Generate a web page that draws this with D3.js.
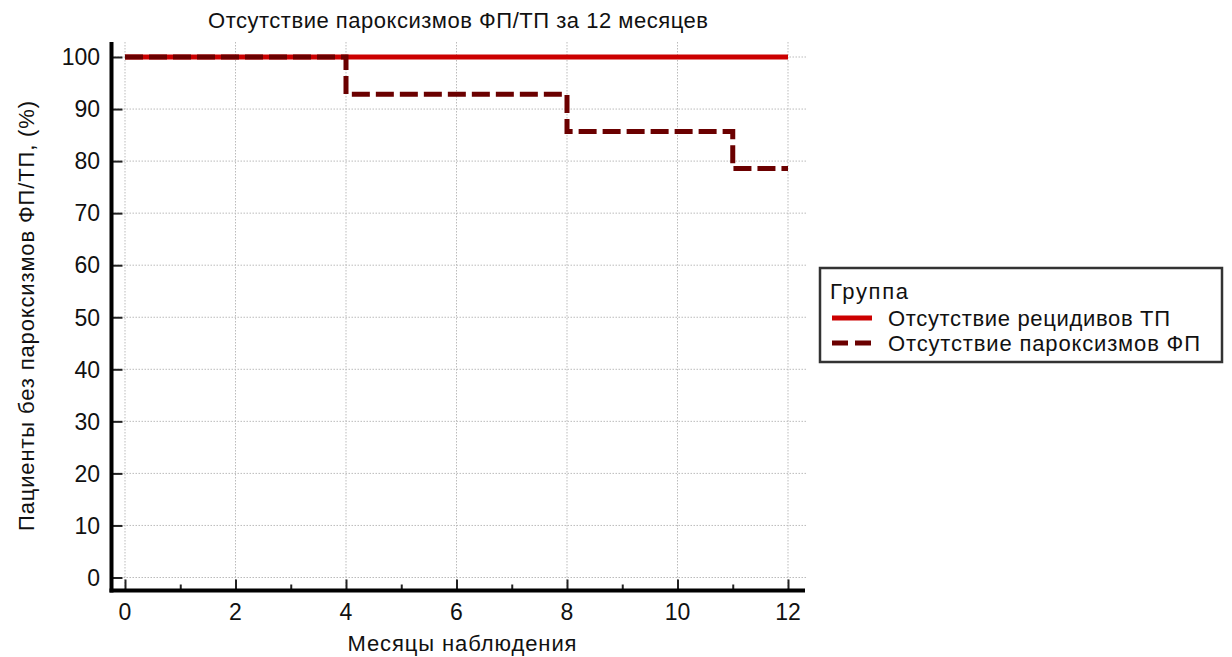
<!DOCTYPE html>
<html><head><meta charset="utf-8">
<script src="https://cdn.jsdelivr.net/npm/d3@7"></script>
<style>
body{margin:0;background:#fff;}
text{font-family:"Liberation Sans",Arial,sans-serif;fill:#111;}
</style></head>
<body><svg id="c" width="1232" height="657"></svg>
<script>
const months = [0, 4, 8, 11, 12];
const seriesTP = [100, 100, 100, 100, 100];
const seriesAF = [100, 92.86, 85.71, 78.57, 78.57];
const xTicks = [0, 2, 4, 6, 8, 10, 12];
const xMinorTicks = [1, 3, 5, 7, 9, 11];
const yTicks = [0, 10, 20, 30, 40, 50, 60, 70, 80, 90, 100];
const seriesNames = ["Отсутствие рецидивов ТП", "Отсутствие пароксизмов ФП"];
const colors = ["#cc0000", "#6b0000"];

const svg = d3.select("#c");
const x = d3.scaleLinear().domain([0, 12]).range([125, 788]);
const y = d3.scaleLinear().domain([0, 100]).range([577.5, 57]);
const pLeft = 111.5, pRight = 805, pTop = 42, pBottom = 590.5;

// grid
const g = svg.append("g");
g.selectAll(".gx").data(xTicks).enter().append("line")
  .attr("x1", d => x(d)).attr("x2", d => x(d)).attr("y1", pTop).attr("y2", pBottom)
  .attr("stroke", "#bbb").attr("stroke-width", 1).attr("stroke-dasharray", "1.5,1.5");
g.selectAll(".gy").data(yTicks).enter().append("line")
  .attr("x1", pLeft).attr("x2", pRight + 2).attr("y1", d => y(d)).attr("y2", d => y(d))
  .attr("stroke", "#bbb").attr("stroke-width", 1).attr("stroke-dasharray", "1.5,1.5");

// axes
const yAxis = d3.axisRight(y).tickValues(yTicks).tickSize(11).tickFormat("");
const ya = svg.append("g").attr("transform", `translate(${pLeft},0)`).call(yAxis);
ya.select(".domain").remove();
ya.selectAll(".tick line").attr("stroke", "#222").attr("stroke-width", 2);
svg.append("g").selectAll("text").data(yTicks).enter().append("text")
  .attr("x", 100).attr("y", d => y(d)).attr("dy", "0.36em").attr("text-anchor", "end")
  .attr("font-size", 23).text(d => d);

const xAxis = d3.axisTop(x).tickValues(xTicks).tickSize(11).tickFormat("");
const xa = svg.append("g").attr("transform", `translate(0,${pBottom})`).call(xAxis);
xa.select(".domain").remove();
xa.selectAll(".tick line").attr("stroke", "#222").attr("stroke-width", 2);
const xm = svg.append("g").attr("transform", `translate(0,${pBottom})`)
  .call(d3.axisTop(x).tickValues(xMinorTicks).tickSize(6).tickFormat(""));
xm.select(".domain").remove();
xm.selectAll(".tick line").attr("stroke", "#222").attr("stroke-width", 2);
svg.append("g").selectAll("text").data(xTicks).enter().append("text")
  .attr("x", d => x(d)).attr("y", 612).attr("dy", "0.36em").attr("text-anchor", "middle")
  .attr("font-size", 23).text(d => d);

svg.append("line").attr("x1", pLeft).attr("x2", pLeft).attr("y1", pTop).attr("y2", pBottom + 2)
  .attr("stroke", "#000").attr("stroke-width", 4);
svg.append("line").attr("x1", pLeft - 2).attr("x2", pRight).attr("y1", pBottom).attr("y2", pBottom)
  .attr("stroke", "#000").attr("stroke-width", 4);

// lines
const line = d3.line().curve(d3.curveStepAfter).x(d => x(d[0])).y(d => y(d[1]));
svg.append("path").datum(months.map((m, i) => [m, seriesTP[i]]))
  .attr("d", line).attr("fill", "none").attr("stroke", colors[0]).attr("stroke-width", 5);
svg.append("path").datum(months.map((m, i) => [m, seriesAF[i]]))
  .attr("d", line).attr("fill", "none").attr("stroke", colors[1]).attr("stroke-width", 5)
  .attr("stroke-dasharray", "18,6");

// title and labels
svg.append("text").attr("x", 458).attr("y", 28).attr("text-anchor", "middle")
  .attr("font-size", 22).attr("textLength", 500).text("Отсутствие пароксизмов ФП/ТП за 12 месяцев");
svg.append("text").attr("x", 462).attr("y", 651).attr("text-anchor", "middle")
  .attr("font-size", 22).attr("textLength", 229).text("Месяцы наблюдения");
svg.append("text").attr("transform", "translate(34,316) rotate(-90)").attr("text-anchor", "middle")
  .attr("font-size", 22).attr("textLength", 430).text("Пациенты без пароксизмов ФП/ТП, (%)");

// legend
const legendWidths = [282, 312];
const lg = svg.append("g");
lg.append("rect").attr("x", 820).attr("y", 268).attr("width", 402).attr("height", 94)
  .attr("fill", "#fff").attr("stroke", "#333").attr("stroke-width", 2.5);
lg.append("text").attr("x", 830).attr("y", 299).attr("font-size", 22).attr("textLength", 78).text("Группа");
seriesNames.forEach((n, i) => {
  const yy = 318 + i * 25;
  lg.append("line").attr("x1", 832).attr("x2", 872).attr("y1", yy).attr("y2", yy)
    .attr("stroke", colors[i]).attr("stroke-width", 5)
    .attr("stroke-dasharray", i === 1 ? "16,7" : null);
  lg.append("text").attr("x", 888).attr("y", yy).attr("dy", "0.36em").attr("font-size", 22)
    .attr("textLength", legendWidths[i]).text(n);
});
</script></body></html>
